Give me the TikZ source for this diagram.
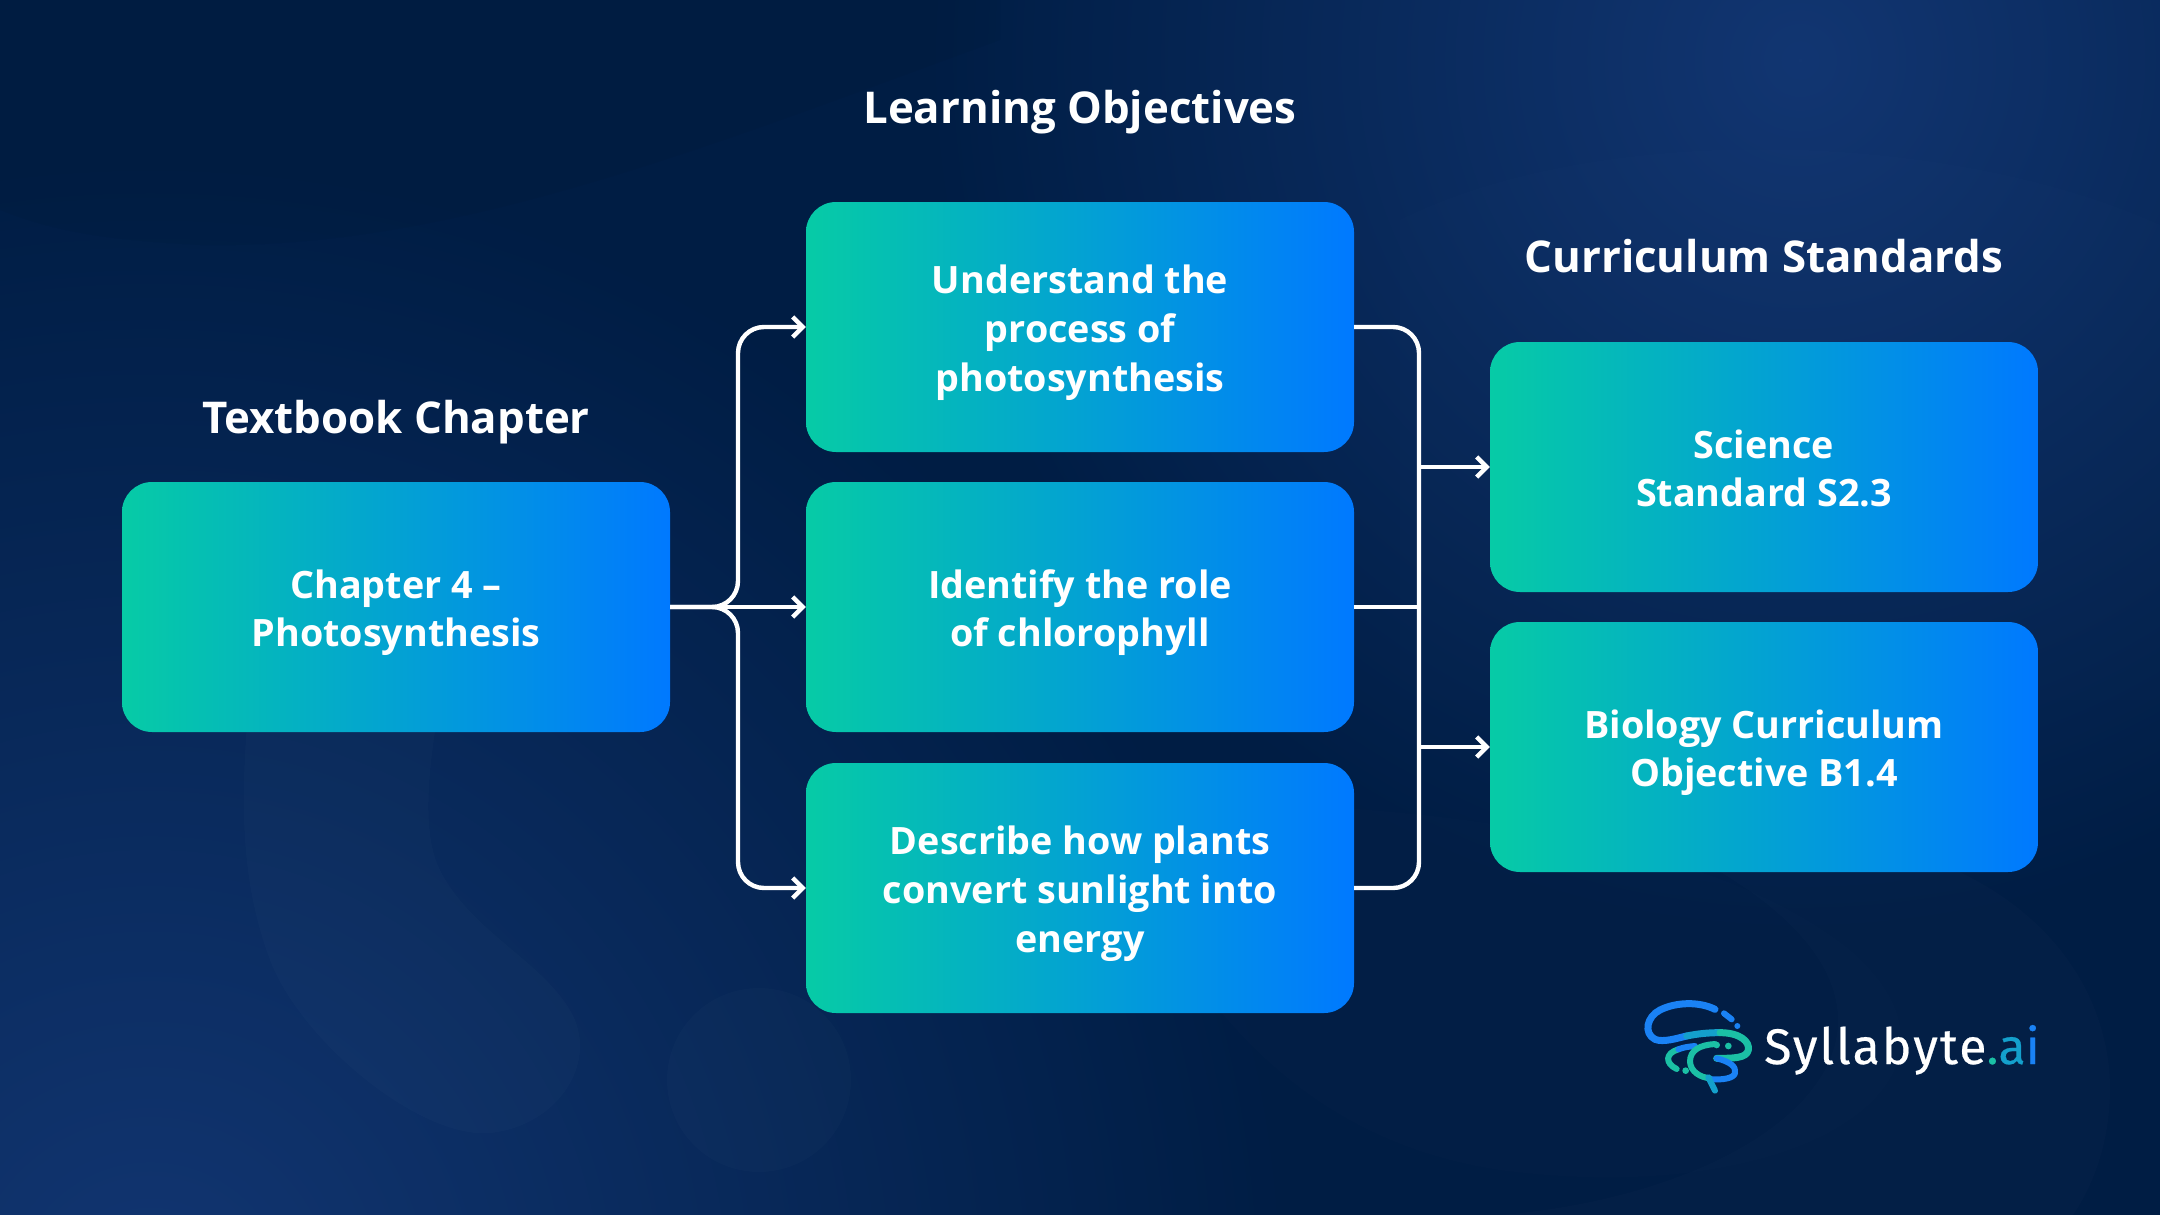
\documentclass[tikz,border=0pt]{standalone}
\usepackage{fontspec}
\setmainfont{Open Sans}
\newfontfamily\logofont[LetterSpace=4,FakeBold=.4]{Fira Sans}
\usetikzlibrary{arrows.meta,fadings,positioning,calc}
\definecolor{bgbase}{HTML}{001D44}
\definecolor{bgglow}{HTML}{123672}
\definecolor{cardgreen}{HTML}{06CBA6}
\definecolor{cardblue}{HTML}{0079FF}
\definecolor{logoblue}{HTML}{1A82F5}
\definecolor{logoteal}{HTML}{1BC0A5}
\definecolor{logomid}{HTML}{14A0CC}
\newcommand{\topfill}{\rule{0pt}{40pt}}
\tikzfading[name=glow, inner color=transparent!0, middle color=transparent!30, outer color=transparent!100]
\tikzset{
  card/.style={rectangle, rounded corners=30pt, minimum width=548pt, minimum height=250pt, inner sep=0pt,
    left color=cardgreen, right color=cardblue, text=white, font=\fontsize{37.7}{48.8}\selectfont\bfseries, align=center},
  heading/.style={text=white, font=\fontsize{43.8}{50}\selectfont\bfseries, inner sep=0pt, anchor=base},
  conn/.style={draw=white, line width=4.4pt, rounded corners=26pt},
  thinconn/.style={draw=white, line width=3.6pt},
  tipped/.style={-{Straight Barb[length=10pt,width=20pt,line width=4.4pt]}},
  logostroke/.style={line width=6pt, line cap=round, line join=round}
}
\begin{document}
\begin{tikzpicture}[x=1pt,y=-1pt]
\useasboundingbox (0,0) rectangle (2160,1215);
\clip (0,0) rectangle (2160,1215);
% background
\fill[bgbase] (0,0) rectangle (2160,1215);
\fill[bgglow, path fading=glow] (150,1300) circle (1150);
\fill[bgglow, path fading=glow] (1800,60) circle (880);
% faint background shapes
\fill[white, opacity=.015] (249,700) .. controls (240,800) and (240,880) .. (270,960)
  .. controls (300,1040) and (420,1140) .. (491,1133)
  .. controls (560,1125) and (600,1060) .. (570,1010)
  .. controls (540,960) and (470,930) .. (440,870)
  .. controls (420,830) and (430,760) .. (440,700) -- cycle;
\fill[white, opacity=.015] (759,1080) circle (92);
\fill[white, opacity=.008] (1100,800) .. controls (1400,800) and (1700,830) .. (1850,950)
  .. controls (2000,1080) and (1800,1210) .. (1500,1170) .. controls (1300,1140) and (1180,1000) .. (1100,800) -- cycle;
\fill[white, opacity=.01] (1660,840) .. controls (1900,800) and (2090,900) .. (2109,1067)
  .. controls (2115,1140) and (2090,1190) .. (2073,1215) -- (1500,1215) .. controls (1800,1190) and (2000,1000) .. (1660,840) -- cycle;
\fill[white, opacity=.008] (1400,220) .. controls (1600,120) and (1950,130) .. (2160,225) -- (2160,700) -- (1400,700) -- cycle;
\fill[black, opacity=.03] (0,0) -- (1000,0) -- (1000,40) .. controls (700,150) and (450,250) .. (200,245) .. controls (100,240) and (50,230) .. (0,210) -- cycle;
% headings
\node[heading] (hch) at (396,433) {Textbook Chapter};
\node[heading] (hlo) at (1080,123) {Learning Objectives};
\node[heading] (hcs) at (1764,272) {Curriculum Standards};
% cards
\node[card] (ch) at (396,607) {\topfill Chapter 4 –\\Photosynthesis};
\node[card] (lo1) at (1080,327) {\topfill Understand the\\process of\\photosynthesis};
\node[card] (lo2) at (1080,607) {\topfill Identify the role\\of chlorophyll};
\node[card] (lo3) at (1080,888) {\topfill Describe how plants\\convert sunlight into\\energy};
\node[card] (cs1) at (1764,467) {\topfill Science\\Standard S2.3\vphantom{p}};
\node[card] (cs2) at (1764,747) {\topfill Biology Curriculum\\Objective B1.4};
% connector buses
\coordinate (busL) at (738,607);
\coordinate (busR) at (1419,607);
\draw[conn,tipped] (ch.east) -- (busL) -- (busL |- lo1.west) -- (lo1.west);
\draw[conn,tipped] (ch.east) -- (busL) -- (busL |- lo3.west) -- (lo3.west);
\draw[thinconn,tipped] (ch.east) -- (lo2.west);
\draw[conn] (lo1.east) -- (busR |- lo1.east) -- (busR |- lo3.east) -- (lo3.east);
\draw[thinconn] (lo2.east) -- (busR);
\draw[thinconn,tipped] (busR |- cs1.west) -- (cs1.west);
\draw[thinconn,tipped] (busR |- cs2.west) -- (cs2.west);
% logo
\begin{scope}[shift={(1600,970)}, x=.3333pt, y=-.3333pt, logostroke]
  \draw[logoblue, line width=7pt] (345,118) .. controls (300,95) and (230,95) .. (180,120)
     .. controls (140,140) and (130,190) .. (165,208) .. controls (190,218) and (230,205) .. (260,198);
  \draw[logomid, line width=7pt] (260,198) .. controls (290,192) and (320,188) .. (360,188);
  \draw[logoteal, line width=7pt] (360,188) .. controls (420,188) and (450,215) .. (445,240)
     .. controls (440,265) and (400,265) .. (350,265);
  \draw[logoblue, line width=6pt] (372,130) -- (395,148);
  \fill[logoblue] (412,168) circle (9);
  \draw[logoteal] (230,297) .. controls (195,280) and (195,250) .. (235,238);
  \draw[logoblue] (235,238) .. controls (250,232) and (265,230) .. (285,228);
  \draw[logoteal] (345,222) .. controls (300,225) and (270,240) .. (270,275)
     .. controls (272,305) and (300,322) .. (330,325);
  \draw[logoblue] (350,265) .. controls (390,275) and (410,290) .. (405,310) .. controls (400,325) and (370,330) .. (330,328);
  \draw[logomid] (325,322) -- (345,362);
  \fill[logoteal] (350,225) circle (10) (385,228) circle (10) (257,302) circle (10);
\end{scope}
\node[anchor=base west, inner sep=0pt, text=white, font=\logofont\fontsize{50}{50}\selectfont] (logotext) at (1764,1064)
  {Syllabyte\textcolor{logoteal}{.}\textcolor{logomid}{a}\textcolor{logoblue}{i}};
\end{tikzpicture}
\end{document}
